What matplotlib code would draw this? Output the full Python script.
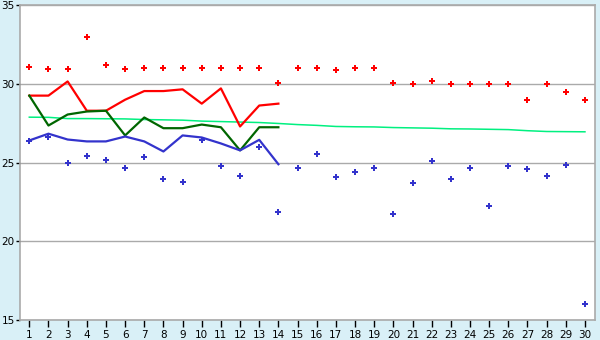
import numpy as np
import matplotlib.pyplot as plt

days = np.arange(1, 31)

# daily max (red dots) and min (blue dots)
max_pts = [31.1, 30.95, 30.95, 33.0, 31.2, 30.95, 31.0, 31.0, 31.0, 31.0,
           31.0, 31.0, 31.0, 30.06, 31.0, 31.0, 30.9, 31.0, 31.0, 30.06,
           30.0, 30.2, 30.0, 30.0, 30.0, 30.0, 29.0, 30.0, 29.5, 29.0]
min_pts = [26.4, 26.62, 25.0, 25.4, 25.15, 24.64, 25.34, 23.99, 23.8, 26.41,
           24.78, 24.18, 26.0, 21.84, 24.68, 25.57, 24.11, 24.43, 24.68, 21.71,
           23.73, 25.13, 23.99, 24.68, 22.22, 24.81, 24.62, 24.18, 24.87, 16.0]

# lines for days 1-14
line_days = np.arange(1, 15)
red_line = [29.26, 29.26, 30.16, 28.3, 28.3, 29.0, 29.55, 29.55, 29.66, 28.75,
            29.72, 27.3, 28.63, 28.75]
green_line = [29.26, 27.36, 28.06, 28.25, 28.3, 26.73, 27.87, 27.19, 27.19, 27.42,
              27.25, 25.78, 27.25, 27.25]
blue_line = [26.41, 26.84, 26.47, 26.35, 26.35, 26.66, 26.35, 25.71, 26.73, 26.6,
             26.22, 25.78, 26.45, 24.9]

# long-term average (mint line)
avg_line = [27.89, 27.88, 27.8, 27.8, 27.79, 27.78, 27.74, 27.72, 27.7, 27.64,
            27.61, 27.58, 27.55, 27.49, 27.42, 27.37, 27.3, 27.28, 27.27, 27.23,
            27.21, 27.19, 27.15, 27.14, 27.12, 27.1, 27.03, 26.98, 26.97, 26.96]

bg = '#d9f0f7'
fig = plt.figure(figsize=(6, 3.4), dpi=100, facecolor=bg)
ax = fig.add_axes([20.3/600, 1-320/340, 575/600, (320-5.3)/340])
ax.set_facecolor('white')

ax.plot(days, avg_line, color='#00f080', lw=1.1, zorder=2)
ax.plot(line_days, red_line, color='#ff0000', lw=1.6, zorder=3)
ax.plot(line_days, green_line, color='#006600', lw=1.6, zorder=3)
ax.plot(line_days, blue_line, color='#3333cc', lw=1.6, zorder=3)
ax.plot(days, max_pts, 'P', color='#ff0000', ms=4.8, mew=0, ls='none', zorder=4)
ax.plot(days, min_pts, 'P', color='#3333cc', ms=4.8, mew=0, ls='none', zorder=4)

ax.set_xlim(0.53, 30.54)
ax.set_ylim(15, 35)
ax.set_xticks(days)
ax.set_yticks([15, 20, 25, 30, 35])
ax.yaxis.grid(True, color='#aaaaaa', lw=1)
ax.set_axisbelow(True)
for s in ax.spines.values():
    s.set_color('#aaaaaa')
    s.set_linewidth(1.2)
ax.tick_params(axis='x', length=5, width=1, color='black', labelsize=7.5, pad=2)
ax.tick_params(axis='y', length=3, width=1, color='black', labelsize=7.5, pad=1)

plt.savefig('out.png', facecolor=bg)
